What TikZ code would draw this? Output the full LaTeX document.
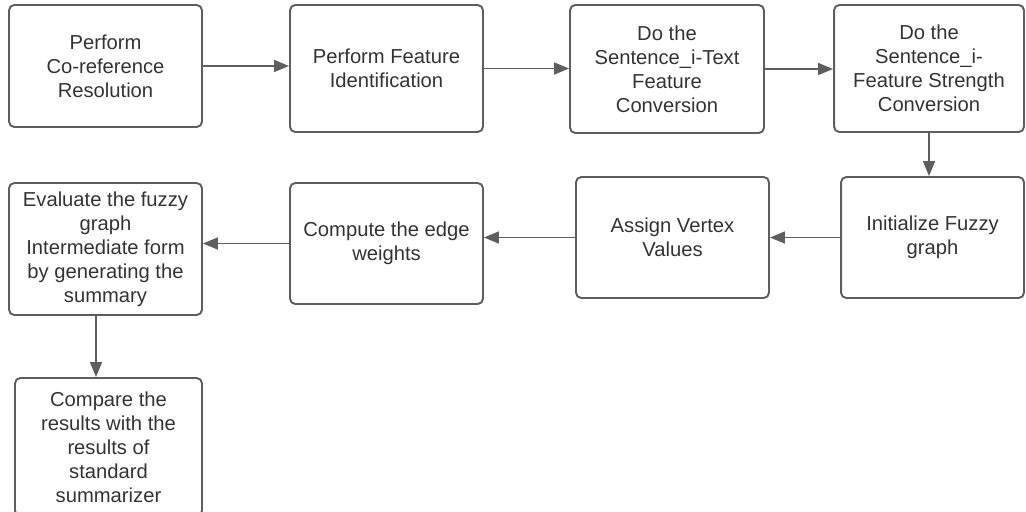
\documentclass[tikz,border=0pt]{standalone}
\usepackage{fontspec}
\setsansfont{Liberation Sans}
\usepackage{tikz}
\usetikzlibrary{arrows.meta, positioning, calc}
\definecolor{boxgray}{HTML}{5E5E5E}
\definecolor{textgray}{HTML}{333333}

\begin{document}
\begin{tikzpicture}[x=0.02cm, y=-0.02cm,
    font=\sffamily\fontsize{11.5}{13.6}\selectfont,
    >={Triangle[length=0.3cm, width=0.24cm]},
    stepbox/.style={rectangle, rounded corners=3pt, draw=boxgray, line width=1.1pt,
      text=textgray, align=center, inner sep=2pt},
    flow/.style={->, draw=boxgray, line width=0.9pt}]

    \useasboundingbox (0,0) rectangle (1026,511);

    % top row
    \node (coref) [stepbox, minimum width=3.86cm, minimum height=2.44cm] at (105.5,66)
      {Perform\\Co-reference\\Resolution};
    \node (featid) [stepbox, minimum width=3.86cm, minimum height=2.54cm] at (386.5,68.5)
      {Perform Feature\\Identification};
    \node (textconv) [stepbox, minimum width=3.88cm, minimum height=2.56cm] at (667,69)
      {Do the\\Sentence\_i-Text\\Feature\\Conversion};
    \node (strconv) [stepbox, minimum width=3.80cm, minimum height=2.54cm] at (929,68.5)
      {Do the\\Sentence\_i-\\Feature Strength\\Conversion};

    % middle row
    \node (initfg) [stepbox, minimum width=3.66cm, minimum height=2.42cm] at (932.5,237.5)
      {Initialize Fuzzy\\graph};
    \node (vertex) [stepbox, minimum width=3.86cm, minimum height=2.42cm] at (672.5,237.5)
      {Assign Vertex\\Values};
    \node (edgew) [stepbox, minimum width=3.86cm, minimum height=2.42cm] at (386.5,243.5)
      {Compute the edge\\weights};
    \node (evalfg) [stepbox, minimum width=3.86cm, minimum height=2.64cm] at (105.5,249)
      {Evaluate the fuzzy\\graph\\Intermediate form\\by generating the\\summary};

    % bottom
    \node (compare) [stepbox, minimum width=3.74cm, minimum height=2.76cm] at (108.5,447)
      {Compare the\\results with the\\results of\\standard\\summarizer};

    \draw[flow] (coref.east) -- (coref.east -| featid.west);
    \draw[flow] (featid.east) -- (featid.east -| textconv.west);
    \draw[flow] (textconv.east) -- (textconv.east -| strconv.west);
    \draw[flow] (strconv.south) -- (strconv.south |- initfg.north);
    \draw[flow] (initfg.west) -- (initfg.west -| vertex.east);
    \draw[flow] (vertex.west) -- (vertex.west -| edgew.east);
    \draw[flow] (edgew.west) -- (edgew.west -| evalfg.east);
    \draw[flow] ([xshift=-0.19cm]evalfg.south) -- ([xshift=-0.19cm]evalfg.south |- compare.north);
\end{tikzpicture}
\end{document}
